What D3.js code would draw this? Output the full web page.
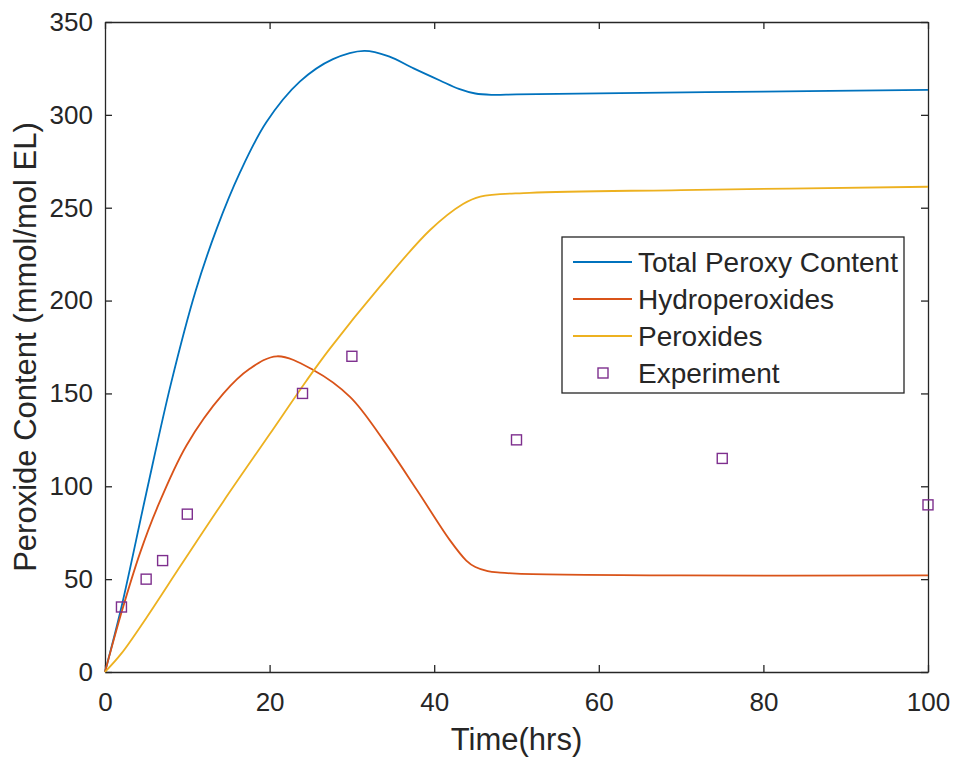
<!DOCTYPE html>
<html>
<head>
<meta charset="utf-8">
<script src="https://cdn.jsdelivr.net/npm/d3@7"></script>
<style>
	body { margin: 0; background: #fff; }
	text { font-family: "Liberation Sans", Arial, sans-serif; fill: #262626; }
</style>
</head>
<body>
<script>

// model curves
var totalTime = [0, 2, 5, 8, 11, 13.6, 16.4, 19.6, 23.7, 27.7, 31.5, 34.5, 37.5, 40.7, 43, 45, 47, 50, 60, 80, 100];
var totalVals = [0, 35, 96, 155, 205, 239, 269, 296, 318, 330, 334.5, 331.5, 325, 318.5, 314, 311.5, 310.8, 311, 311.6, 312.5, 313.4];

var hydroTime = [0, 2, 4.25, 6.3, 9.9, 14.4, 17.5, 20.9, 25.3, 29.8, 33.8, 37.9, 41.9, 43.9, 45, 46.5, 48, 50, 70, 100];
var hydroVals = [0, 32, 64, 88, 122, 150, 163, 170, 162.6, 148, 125, 98, 71, 60, 56.5, 54.3, 53.5, 53, 52, 52];

var peroxTime = [0, 2, 5, 9.3, 14.4, 20, 24.5, 27.3, 33.4, 39.5, 43.5, 45.6, 51.6, 70, 100];
var peroxVals = [0, 10, 29, 58, 92, 128, 157, 174, 207.5, 238, 252, 256, 258, 259.5, 261.3];

// experimental points
var expTime = [2, 5, 7, 10, 24, 30, 50, 75, 100];
var expVals = [35, 50, 60, 85, 150, 170, 125, 115, 90];

var seriesNames = ['Total Peroxy Content', 'Hydroperoxides', 'Peroxides', 'Experiment'];
var seriesColors = ['#0072BD', '#D95319', '#EDB120', '#7E2F8E'];

var xTicks = [0, 20, 40, 60, 80, 100];
var yTicks = [0, 50, 100, 150, 200, 250, 300, 350];

var width = 954, height = 758;
var m = { left: 105, right: 26, top: 22, bottom: 86 };

var svg = d3.select('body').append('svg')
			.attr('width', width)
			.attr('height', height);

var x = d3.scaleLinear().domain([0, 100]).range([m.left, width - m.right]);
var y = d3.scaleLinear().domain([0, 350]).range([height - m.bottom, m.top]);

var axisColor = '#262626';

function styleAxis(g) {
	g.select('.domain').attr('stroke', axisColor).attr('stroke-width', 1.3);
	g.selectAll('.tick line').attr('stroke', axisColor).attr('stroke-width', 1.3);
	g.selectAll('text').style('font-size', '26px').attr('fill', axisColor);
}

// bottom and left axes with labels, ticks pointing inward
svg.append('g')
	.attr('transform', 'translate(0,' + y(0) + ')')
	.call(d3.axisBottom(x).tickValues(xTicks).tickSize(-7).tickSizeOuter(0).tickPadding(21))
	.call(styleAxis);

svg.append('g')
	.attr('transform', 'translate(' + x(0) + ',0)')
	.call(d3.axisLeft(y).tickValues(yTicks).tickSize(-7).tickSizeOuter(0).tickPadding(12))
	.call(styleAxis);

// top and right box edges
svg.append('g')
	.attr('transform', 'translate(0,' + y(350) + ')')
	.call(d3.axisTop(x).tickValues(xTicks).tickSize(-7).tickSizeOuter(0).tickFormat(''))
	.call(styleAxis);

svg.append('g')
	.attr('transform', 'translate(' + x(100) + ',0)')
	.call(d3.axisRight(y).tickValues(yTicks).tickSize(-7).tickSizeOuter(0).tickFormat(''))
	.call(styleAxis);

// curves
var line = d3.line()
			.x(function(d){ return x(d[0]); })
			.y(function(d){ return y(d[1]); })
			.curve(d3.curveCatmullRom.alpha(0.5));

var curves = [
	d3.zip(totalTime, totalVals),
	d3.zip(hydroTime, hydroVals),
	d3.zip(peroxTime, peroxVals)
];

curves.forEach(function(pts, i){
	svg.append('path')
		.datum(pts)
		.attr('d', line)
		.attr('fill', 'none')
		.attr('stroke', seriesColors[i])
		.attr('stroke-width', 1.8);
});

// experiment markers (open squares)
var sq = 10;
svg.selectAll('rect.exp')
	.data(d3.zip(expTime, expVals))
	.enter().append('rect')
	.attr('class', 'exp')
	.attr('x', function(d){ return x(d[0]) - sq/2; })
	.attr('y', function(d){ return y(d[1]) - sq/2; })
	.attr('width', sq)
	.attr('height', sq)
	.attr('fill', 'none')
	.attr('stroke', seriesColors[3])
	.attr('stroke-width', 1.4);

// axis titles
svg.append('text')
	.attr('x', (x(0) + x(100)) / 2)
	.attr('y', 750)
	.attr('text-anchor', 'middle')
	.style('font-size', '31px')
	.text('Time(hrs)');

svg.append('text')
	.attr('transform', 'translate(36,' + ((y(0) + y(350)) / 2) + ') rotate(-90)')
	.attr('text-anchor', 'middle')
	.style('font-size', '31px')
	.text('Peroxide Content (mmol/mol EL)');

// legend
var lg = svg.append('g').attr('transform', 'translate(562,237)');
lg.append('rect')
	.attr('width', 342)
	.attr('height', 156)
	.attr('fill', '#fff')
	.attr('stroke', axisColor)
	.attr('stroke-width', 1.3);

seriesNames.forEach(function(name, i){
	var cy = 25 + i * 37;
	if (i < 3) {
		lg.append('line')
			.attr('x1', 11).attr('x2', 70)
			.attr('y1', cy).attr('y2', cy)
			.attr('stroke', seriesColors[i])
			.attr('stroke-width', 1.8);
	} else {
		lg.append('rect')
			.attr('x', 41 - sq/2).attr('y', cy - sq/2)
			.attr('width', sq).attr('height', sq)
			.attr('fill', 'none')
			.attr('stroke', seriesColors[i])
			.attr('stroke-width', 1.4);
	}
	lg.append('text')
		.attr('x', 76)
		.attr('y', cy)
		.attr('dy', '0.35em')
		.style('font-size', '28px')
		.text(name);
});

</script>
</body>
</html>
